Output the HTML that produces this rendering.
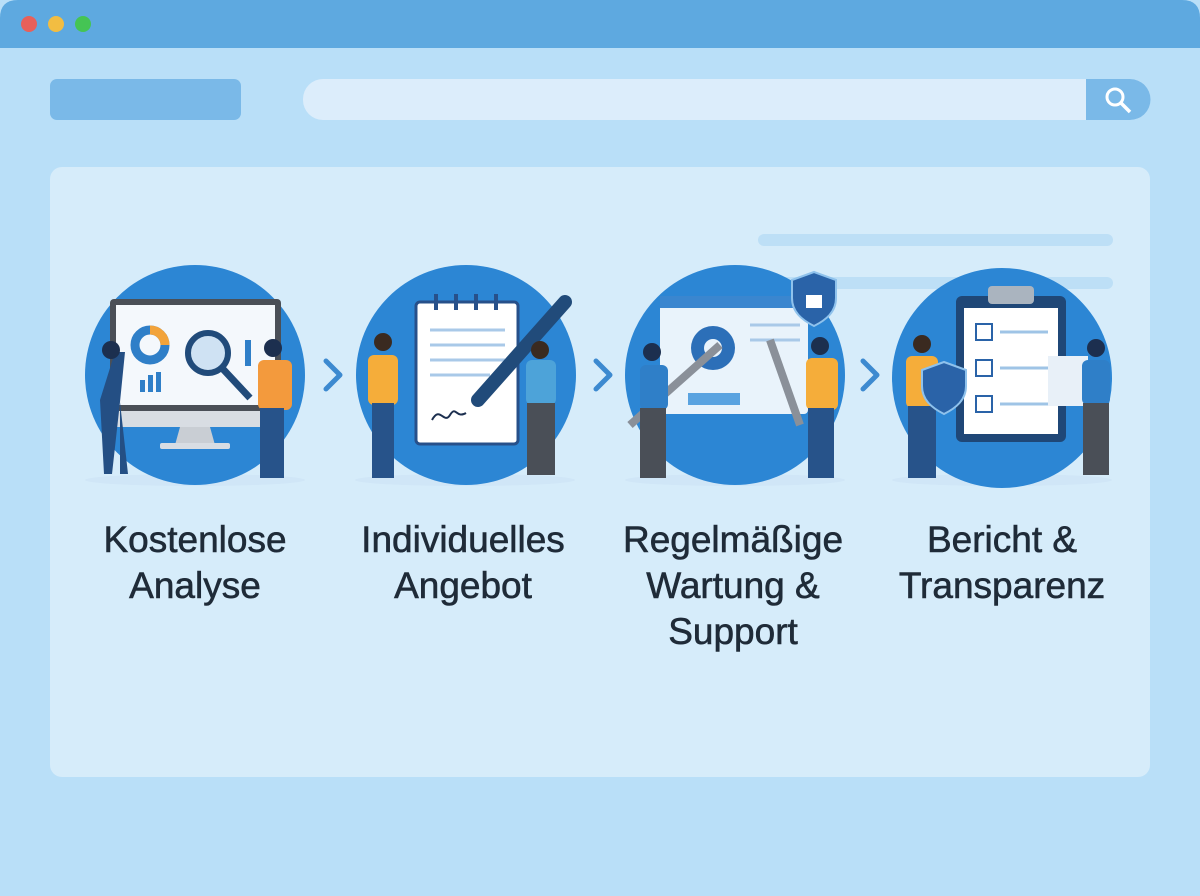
<!DOCTYPE html>
<html><head><meta charset="utf-8"><style>
body{margin:0;width:1200px;height:896px;overflow:hidden;background:#b9dff8;font-family:"Liberation Sans",sans-serif}
.t{position:absolute;font-size:37px;color:#1f2b38;text-align:center;width:320px;line-height:46px;-webkit-text-stroke:0.6px #1f2b38}
</style></head><body>
<svg width="1200" height="896" style="position:absolute;left:0;top:0">
<rect x="0" y="0" width="1200" height="896" rx="18" fill="#b9dff8"/>
<path d="M0 48V18Q0 0 18 0H1182Q1200 0 1200 18V48Z" fill="#5ea9e0"/>
<circle cx="29" cy="24" r="8" fill="#e8605a"/><circle cx="56" cy="24" r="8" fill="#f2bd42"/><circle cx="83" cy="24" r="8" fill="#45c454"/>
<rect x="50" y="79" width="191" height="41" rx="7" fill="#7ab9e8"/>
<rect x="303" y="79" width="847" height="41" rx="20" fill="#dcedfb"/>
<path d="M1086 79H1130A20 20 0 0 1 1130 120H1086Z" fill="#7ab9e8"/>
<circle cx="1115" cy="97" r="8" fill="none" stroke="#fff" stroke-width="3"/><line x1="1121" y1="103" x2="1130" y2="112" stroke="#fff" stroke-width="3.5"/>
<rect x="50" y="167" width="1100" height="610" rx="12" fill="#d6ecfa"/>
<rect x="758" y="234" width="355" height="12" rx="6" fill="#bddff6"/>
<rect x="758" y="277" width="355" height="12" rx="6" fill="#bddff6"/>
<g fill="#d0e6f7"><ellipse cx="195" cy="480" rx="110" ry="6"/><ellipse cx="465" cy="480" rx="110" ry="6"/><ellipse cx="735" cy="480" rx="110" ry="6"/><ellipse cx="1002" cy="480" rx="110" ry="6"/></g>
<g fill="#2c86d4"><circle cx="195" cy="375" r="110"/><circle cx="466" cy="375" r="110"/><circle cx="735" cy="375" r="110"/><circle cx="1002" cy="378" r="110"/></g>
<g fill="none" stroke="#3d8ad0" stroke-width="5" stroke-linecap="round" stroke-linejoin="round">
<path d="M326 361L340 375L326 389"/><path d="M596 361L610 375L596 389"/><path d="M863 361L877 375L863 389"/></g>
<rect x="110" y="299" width="171" height="112" rx="4" fill="#4a4f57"/>
<rect x="116" y="305" width="159" height="100" fill="#f4f8fc"/>
<rect x="110" y="411" width="171" height="16" fill="#d8dde3"/>
<path d="M180 427h30l5 18h-40z" fill="#c9ced4"/><rect x="160" y="443" width="70" height="6" rx="2" fill="#d8dde3"/>
<circle cx="150" cy="345" r="15" fill="none" stroke="#2f7fc8" stroke-width="9"/><path d="M150 330a15 15 0 0 1 15 15" fill="none" stroke="#f2a33a" stroke-width="9"/>
<g fill="#2f7fc8"><rect x="140" y="380" width="5" height="12"/><rect x="148" y="375" width="5" height="17"/><rect x="156" y="372" width="5" height="20"/><rect x="245" y="340" width="6" height="26"/></g>
<circle cx="208" cy="353" r="20" fill="#cfe2f3" stroke="#214b7a" stroke-width="6"/><line x1="222" y1="368" x2="250" y2="398" stroke="#214b7a" stroke-width="7"/>
<path d="M100 400l15-48h10l-5 50l-8 72h-8zM120 402l8 72h-8z" fill="#244f84"/><circle cx="111" cy="350" r="9" fill="#1c2f4f"/>
<rect x="258" y="360" width="34" height="50" rx="6" fill="#f39a3d"/><rect x="260" y="408" width="24" height="70" fill="#27538a"/><circle cx="273" cy="348" r="9" fill="#1c2f4f"/>
<rect x="416" y="302" width="102" height="142" rx="4" fill="#fff" stroke="#27508a" stroke-width="3"/>
<g stroke="#27508a" stroke-width="4"><line x1="436" y1="294" x2="436" y2="310"/><line x1="456" y1="294" x2="456" y2="310"/><line x1="476" y1="294" x2="476" y2="310"/><line x1="496" y1="294" x2="496" y2="310"/></g>
<g stroke="#a9c9e8" stroke-width="3"><line x1="430" y1="330" x2="505" y2="330"/><line x1="430" y1="345" x2="505" y2="345"/><line x1="430" y1="360" x2="505" y2="360"/><line x1="430" y1="375" x2="490" y2="375"/></g>
<path d="M432 420c8-15 12 5 18-5s6 4 16-2" fill="none" stroke="#1c2f4f" stroke-width="2"/>
<line x1="565" y1="302" x2="478" y2="400" stroke="#214b7a" stroke-width="14" stroke-linecap="round"/>
<rect x="368" y="355" width="30" height="50" rx="6" fill="#f5ad3a"/><rect x="372" y="403" width="22" height="75" fill="#27538a"/><circle cx="383" cy="342" r="9" fill="#3a2a20"/>
<rect x="526" y="360" width="30" height="45" rx="6" fill="#4da3d9"/><rect x="527" y="403" width="28" height="72" fill="#4a4f57"/><circle cx="540" cy="350" r="9" fill="#3a2a20"/>
<rect x="660" y="296" width="148" height="118" rx="4" fill="#e9f3fb"/><rect x="660" y="296" width="148" height="12" fill="#3a86cf"/>
<circle cx="713" cy="348" r="22" fill="#2c6fb8"/><circle cx="713" cy="348" r="9" fill="#e9f3fb"/>
<rect x="688" y="393" width="52" height="12" fill="#5aa3e0"/>
<g stroke="#a9c9e8" stroke-width="3"><line x1="750" y1="325" x2="800" y2="325"/><line x1="750" y1="340" x2="800" y2="340"/></g>
<path d="M792 280l22-8 22 8v18c0 14-10 22-22 28-12-6-22-14-22-28z" fill="#2a63a8" stroke="#8fc2ec" stroke-width="2"/>
<rect x="806" y="295" width="16" height="13" fill="#fff"/>
<line x1="630" y1="425" x2="720" y2="345" stroke="#8a9099" stroke-width="8"/><line x1="770" y1="340" x2="800" y2="425" stroke="#8a9099" stroke-width="8"/>
<rect x="640" y="365" width="28" height="45" rx="6" fill="#2f7fc8"/><rect x="640" y="408" width="26" height="70" fill="#4a4f57"/><circle cx="652" cy="352" r="9" fill="#1c2f4f"/>
<rect x="806" y="358" width="32" height="52" rx="6" fill="#f5ad3a"/><rect x="808" y="408" width="26" height="70" fill="#27538a"/><circle cx="820" cy="346" r="9" fill="#1c2f4f"/>
<rect x="956" y="296" width="110" height="146" rx="6" fill="#1f4777"/><rect x="964" y="308" width="94" height="126" fill="#fff"/>
<rect x="988" y="286" width="46" height="18" rx="4" fill="#aab4bf"/>
<g fill="none" stroke="#2a63a8" stroke-width="2"><rect x="976" y="324" width="16" height="16"/><rect x="976" y="360" width="16" height="16"/><rect x="976" y="396" width="16" height="16"/></g>
<g stroke="#9fc4e6" stroke-width="3"><line x1="1000" y1="332" x2="1048" y2="332"/><line x1="1000" y1="368" x2="1048" y2="368"/><line x1="1000" y1="404" x2="1048" y2="404"/></g>
<rect x="906" y="356" width="32" height="52" rx="6" fill="#f5ad3a"/><rect x="908" y="406" width="28" height="72" fill="#27538a"/><circle cx="922" cy="344" r="9" fill="#3a2a20"/>
<path d="M922 370l22-8 22 8v16c0 14-10 22-22 28-12-6-22-14-22-28z" fill="#2a63a8" stroke="#8fc2ec" stroke-width="2"/>
<rect x="1048" y="356" width="40" height="50" fill="#e8f0f8"/>
<rect x="1082" y="360" width="28" height="45" rx="6" fill="#2f7fc8"/><rect x="1083" y="403" width="26" height="72" fill="#4a4f57"/><circle cx="1096" cy="348" r="9" fill="#1c2f4f"/>
</svg>
<div class="t" style="left:35px;top:517px">Kostenlose<br>Analyse</div>
<div class="t" style="left:303px;top:517px">Individuelles<br>Angebot</div>
<div class="t" style="left:573px;top:517px">Regelmäßige<br>Wartung &amp;<br>Support</div>
<div class="t" style="left:842px;top:517px">Bericht &amp;<br>Transparenz</div>
</body></html>
